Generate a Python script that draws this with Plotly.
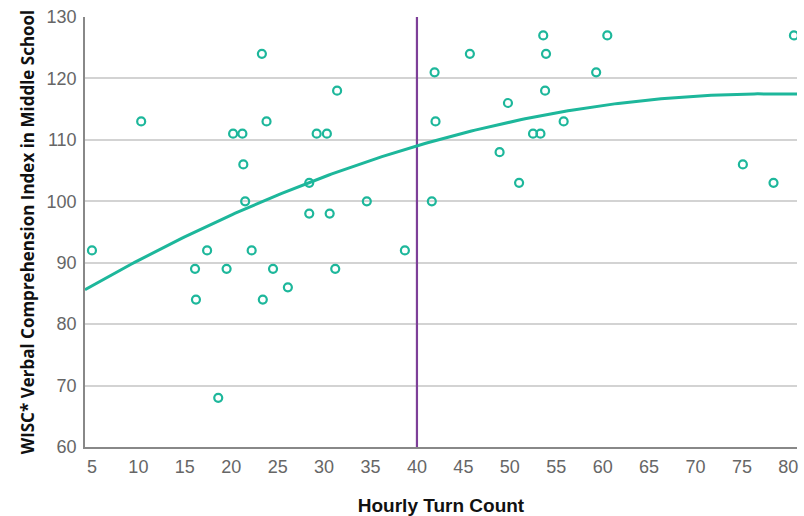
import numpy as np
import plotly.graph_objects as go

turn_count = [5, 10.3, 16.1, 16.2, 17.4, 18.6, 19.5, 20.2, 21.2, 21.3, 21.5, 22.2,
              23.3, 23.4, 23.8, 24.5, 26.1, 28.4, 28.4, 29.2, 30.3, 30.6, 31.2, 31.4,
              34.6, 38.7, 41.6, 41.9, 42.0, 45.7, 48.9, 49.8, 51.0, 52.5, 53.3, 53.6,
              53.9, 53.8, 55.8, 59.3, 60.5, 75.1, 78.4, 80.6]
wisc_vci = [92, 113, 89, 84, 92, 68, 89, 111, 111, 106, 100, 92,
            124, 84, 113, 89, 86, 103, 98, 111, 111, 98, 89, 118,
            100, 92, 100, 121, 113, 124, 108, 116, 103, 111, 111, 127,
            124, 118, 113, 121, 127, 106, 103, 127]

# quadratic fit line: vertex and curvature
fit_vertex_x = 78.0
fit_vertex_y = 117.5
fit_curv = -0.005865
cutoff = 40

x_range = [4.25, 80.93]
y_range = [60, 130]
x_ticks = [5, 10, 15, 20, 25, 30, 35, 40, 45, 50, 55, 60, 65, 70, 75, 80]
y_ticks = [60, 70, 80, 90, 100, 110, 120, 130]

teal = "#1db79b"
purple = "#7d3f98"

xf = np.linspace(x_range[0], x_range[1], 200)
yf = fit_vertex_y + fit_curv * (xf - fit_vertex_x) ** 2

fig = go.Figure()
fig.add_trace(go.Scatter(x=[cutoff, cutoff], y=y_range, mode="lines",
                         line=dict(color=purple, width=2.2), hoverinfo="skip"))
fig.add_trace(go.Scatter(x=xf, y=yf, mode="lines",
                         line=dict(color=teal, width=3), hoverinfo="skip"))
fig.add_trace(go.Scatter(x=turn_count, y=wisc_vci, mode="markers",
                         marker=dict(symbol="circle-open", size=8, color=teal,
                                     line=dict(width=2.2, color=teal))))

fig.update_layout(
    width=804, height=516,
    margin=dict(l=85, r=7, t=17, b=69),
    paper_bgcolor="white", plot_bgcolor="white",
    showlegend=False,
    font=dict(family="Liberation Sans, Arial", size=18, color="#666666"),
)
fig.update_xaxes(range=x_range, tickvals=x_ticks, showgrid=False, zeroline=False,
                 showline=True, linecolor="#888888", linewidth=1.5, ticks="",
                 ticklabelstandoff=3, automargin=False,
                 title=dict(text="<b>Hourly Turn Count</b>", standoff=22,
                            font=dict(family="Liberation Sans, Arial", size=19, color="#111111")))
fig.update_yaxes(range=y_range, tickvals=y_ticks, showgrid=True, gridcolor="#d3d3d3",
                 gridwidth=1.5, zeroline=False, showline=True, linecolor="#888888",
                 linewidth=1.5, ticks="", ticklabelstandoff=3, automargin=False,
                 title=dict(text="<b>WISC* Verbal Comprehension Index in Middle School</b>",
                            standoff=8,
                            font=dict(family="Open Sans", size=17, color="#111111")))

fig.write_html("out.html")
